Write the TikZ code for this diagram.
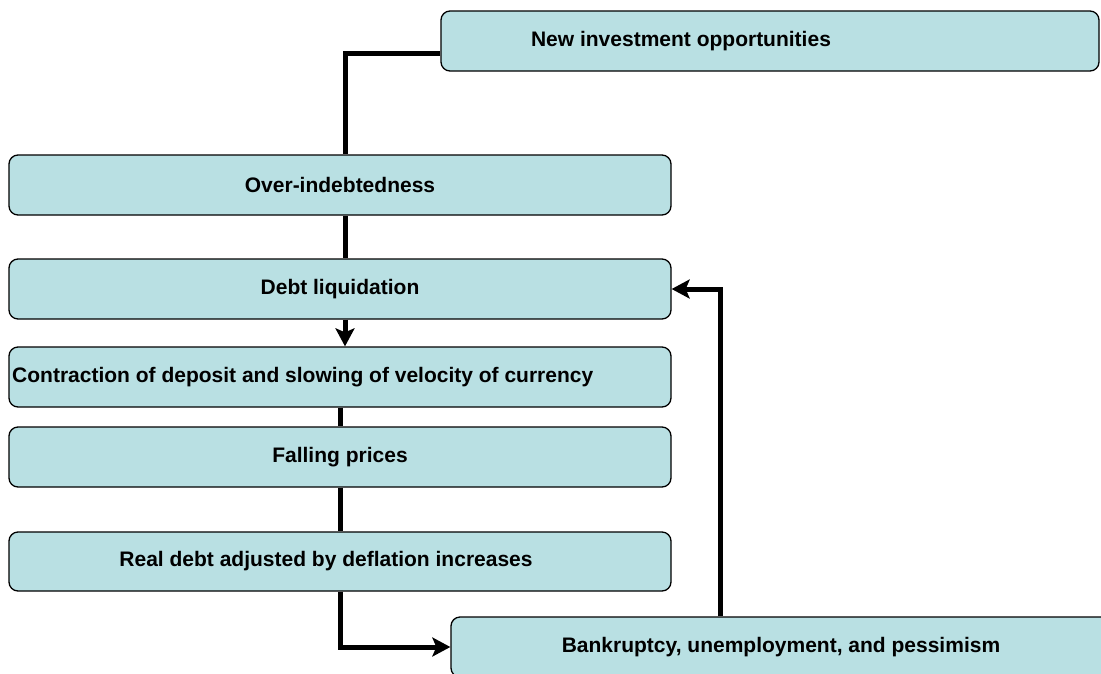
\documentclass[tikz,border=0pt]{standalone}
\usepackage{fontspec}
\setmainfont{Liberation Sans}
\usetikzlibrary{positioning}
\usetikzlibrary{arrows.meta}
\definecolor{boxfill}{RGB}{185,224,227}

\begin{document}
\begin{tikzpicture}[x=1pt,y=1pt,yscale=-1,xscale=1,
    stage/.style={draw=black, line width=1.3pt, fill=boxfill, rounded corners=9pt,
        minimum width=662pt, minimum height=60pt, inner sep=0pt,
        font=\bfseries\fontsize{21}{25}\selectfont},
    boxtext/.style={inner sep=0pt, font=\bfseries\fontsize{21}{25}\selectfont},
    link/.style={line width=5pt},
    arrow/.style={link, -{Stealth[length=18pt,width=19pt,inset=4pt]}}]
\useasboundingbox (0,0) rectangle (1101,673);
\clip (0,0) rectangle (1101,673);

% Boxes
\node [stage, minimum width=658pt] (newinv) at (770,41) {};
\node [stage] (over) at (340,185) {Over-indebtedness};
\node [stage] (liq) at (340,289) {Debt liquidation};
\node [stage] (contr) at (340,377) {};
\node [stage] (fall) at (340,457) {Falling prices};
\node [stage, minimum height=59pt] (real) at (340,561.5) {};
\node [stage, minimum width=660pt] (bank) at (781,647) {Bankruptcy, unemployment, and pessimism};

% Text Node
\node [boxtext] (newinvtxt) at (681,41) {New investment opportunities};
\node [boxtext, anchor=west] (contrtxt) at (12,377) {Contraction of deposit and slowing of velocity of currency};
\node [boxtext] (realtxt) at (326,561.5) {Real debt adjusted by deflation increases};

% Connectors
\draw [link] ([yshift=12pt]newinv.west) -| ([xshift=5pt]over.north);
\draw [link] ([xshift=5pt]over.south) -- ([xshift=5pt]liq.north);
\draw [arrow] ([xshift=5pt]liq.south) -- ([xshift=5pt]contr.north);
\draw [link] (contr.south) -- (fall.north);
\draw [link] (fall.south) -- (real.north);
\draw [arrow] (real.south) |- (bank.west);
\draw [arrow] ([xshift=-61pt]bank.north) |- (liq.east);

\end{tikzpicture}
\end{document}
